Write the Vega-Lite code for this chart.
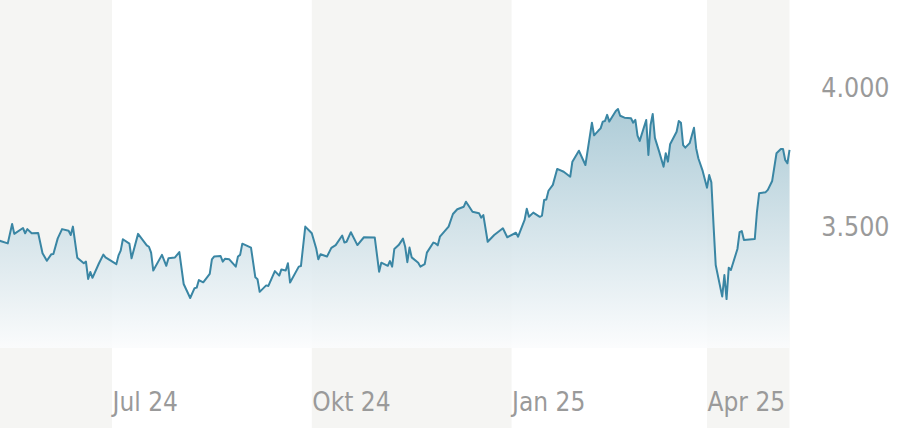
{
  "$schema": "https://vega.github.io/schema/vega-lite/v6.json",
  "width": 902,
  "height": 428,
  "autosize": {"type": "none"},
  "padding": 0,
  "background": "#ffffff",
  "config": {
    "view": {"stroke": null},
    "axis": {"labelOverlap": false, "labelFlush": false},
    "locale": {
      "number": {"decimal": ",", "thousands": ".", "grouping": [3], "currency": ["", " €"]},
      "time": {
        "dateTime": "%A, der %e. %B %Y, %X",
        "date": "%d.%m.%Y",
        "time": "%H:%M:%S",
        "periods": ["AM", "PM"],
        "days": ["Sonntag", "Montag", "Dienstag", "Mittwoch", "Donnerstag", "Freitag", "Samstag"],
        "shortDays": ["So", "Mo", "Di", "Mi", "Do", "Fr", "Sa"],
        "months": ["Januar", "Februar", "März", "April", "Mai", "Juni", "Juli", "August", "September", "Oktober", "November", "Dezember"],
        "shortMonths": ["Jan", "Feb", "Mär", "Apr", "Mai", "Jun", "Jul", "Aug", "Sep", "Okt", "Nov", "Dez"]
      }
    }
  },
  "datasets": {
    "bands": [
      {"s": "2024-04-01", "e": "2024-07-01"},
      {"s": "2024-10-01", "e": "2025-01-01"},
      {"s": "2025-04-01", "e": "2025-05-09"}
    ],
    "prices": [
      {"date": "2024-05-10", "v": 3455}, {"date": "2024-05-14", "v": 3445}, {"date": "2024-05-16", "v": 3514},
      {"date": "2024-05-17", "v": 3479}, {"date": "2024-05-21", "v": 3500}, {"date": "2024-05-22", "v": 3481},
      {"date": "2024-05-23", "v": 3496}, {"date": "2024-05-25", "v": 3481}, {"date": "2024-05-28", "v": 3482},
      {"date": "2024-05-30", "v": 3410}, {"date": "2024-06-01", "v": 3383}, {"date": "2024-06-03", "v": 3406},
      {"date": "2024-06-04", "v": 3407}, {"date": "2024-06-06", "v": 3463}, {"date": "2024-06-08", "v": 3496},
      {"date": "2024-06-11", "v": 3490}, {"date": "2024-06-12", "v": 3475}, {"date": "2024-06-13", "v": 3505},
      {"date": "2024-06-15", "v": 3394}, {"date": "2024-06-18", "v": 3374}, {"date": "2024-06-19", "v": 3380},
      {"date": "2024-06-20", "v": 3318}, {"date": "2024-06-21", "v": 3343}, {"date": "2024-06-22", "v": 3322},
      {"date": "2024-06-25", "v": 3374}, {"date": "2024-06-27", "v": 3405}, {"date": "2024-06-28", "v": 3395},
      {"date": "2024-07-03", "v": 3371}, {"date": "2024-07-04", "v": 3402}, {"date": "2024-07-05", "v": 3419},
      {"date": "2024-07-06", "v": 3460}, {"date": "2024-07-09", "v": 3444}, {"date": "2024-07-10", "v": 3392},
      {"date": "2024-07-13", "v": 3479}, {"date": "2024-07-17", "v": 3438}, {"date": "2024-07-18", "v": 3433},
      {"date": "2024-07-19", "v": 3412}, {"date": "2024-07-20", "v": 3348}, {"date": "2024-07-24", "v": 3404},
      {"date": "2024-07-26", "v": 3365}, {"date": "2024-07-27", "v": 3392}, {"date": "2024-07-30", "v": 3395},
      {"date": "2024-08-01", "v": 3414}, {"date": "2024-08-03", "v": 3300}, {"date": "2024-08-06", "v": 3250},
      {"date": "2024-08-08", "v": 3285}, {"date": "2024-08-09", "v": 3287}, {"date": "2024-08-10", "v": 3314},
      {"date": "2024-08-12", "v": 3306}, {"date": "2024-08-15", "v": 3336}, {"date": "2024-08-16", "v": 3388},
      {"date": "2024-08-17", "v": 3398}, {"date": "2024-08-20", "v": 3400}, {"date": "2024-08-21", "v": 3380},
      {"date": "2024-08-22", "v": 3390}, {"date": "2024-08-24", "v": 3388}, {"date": "2024-08-27", "v": 3362},
      {"date": "2024-08-28", "v": 3398}, {"date": "2024-08-29", "v": 3404}, {"date": "2024-08-30", "v": 3444},
      {"date": "2024-09-03", "v": 3430}, {"date": "2024-09-05", "v": 3324}, {"date": "2024-09-06", "v": 3317},
      {"date": "2024-09-07", "v": 3272}, {"date": "2024-09-10", "v": 3295}, {"date": "2024-09-11", "v": 3293},
      {"date": "2024-09-14", "v": 3346}, {"date": "2024-09-16", "v": 3330}, {"date": "2024-09-17", "v": 3352},
      {"date": "2024-09-19", "v": 3348}, {"date": "2024-09-20", "v": 3374}, {"date": "2024-09-21", "v": 3305},
      {"date": "2024-09-25", "v": 3362}, {"date": "2024-09-26", "v": 3364}, {"date": "2024-09-28", "v": 3505},
      {"date": "2024-10-01", "v": 3481}, {"date": "2024-10-03", "v": 3428}, {"date": "2024-10-04", "v": 3388},
      {"date": "2024-10-05", "v": 3406}, {"date": "2024-10-08", "v": 3398}, {"date": "2024-10-10", "v": 3429},
      {"date": "2024-10-12", "v": 3439}, {"date": "2024-10-15", "v": 3473}, {"date": "2024-10-16", "v": 3448},
      {"date": "2024-10-17", "v": 3451}, {"date": "2024-10-19", "v": 3485}, {"date": "2024-10-22", "v": 3439},
      {"date": "2024-10-25", "v": 3467}, {"date": "2024-10-30", "v": 3466}, {"date": "2024-11-01", "v": 3344},
      {"date": "2024-11-02", "v": 3376}, {"date": "2024-11-05", "v": 3365}, {"date": "2024-11-06", "v": 3382},
      {"date": "2024-11-07", "v": 3362}, {"date": "2024-11-08", "v": 3425}, {"date": "2024-11-10", "v": 3439},
      {"date": "2024-11-12", "v": 3462}, {"date": "2024-11-13", "v": 3433}, {"date": "2024-11-14", "v": 3378},
      {"date": "2024-11-15", "v": 3430}, {"date": "2024-11-16", "v": 3395}, {"date": "2024-11-19", "v": 3376},
      {"date": "2024-11-20", "v": 3362}, {"date": "2024-11-22", "v": 3371}, {"date": "2024-11-23", "v": 3412},
      {"date": "2024-11-26", "v": 3448}, {"date": "2024-11-27", "v": 3445}, {"date": "2024-11-28", "v": 3438},
      {"date": "2024-11-29", "v": 3469}, {"date": "2024-12-03", "v": 3505}, {"date": "2024-12-05", "v": 3550},
      {"date": "2024-12-07", "v": 3567}, {"date": "2024-12-10", "v": 3576}, {"date": "2024-12-11", "v": 3594},
      {"date": "2024-12-12", "v": 3582}, {"date": "2024-12-14", "v": 3558}, {"date": "2024-12-17", "v": 3553},
      {"date": "2024-12-18", "v": 3537}, {"date": "2024-12-19", "v": 3546}, {"date": "2024-12-21", "v": 3451},
      {"date": "2024-12-24", "v": 3475}, {"date": "2024-12-28", "v": 3499}, {"date": "2024-12-30", "v": 3467},
      {"date": "2025-01-03", "v": 3483}, {"date": "2025-01-04", "v": 3469}, {"date": "2025-01-07", "v": 3529},
      {"date": "2025-01-08", "v": 3569}, {"date": "2025-01-09", "v": 3540}, {"date": "2025-01-11", "v": 3555},
      {"date": "2025-01-14", "v": 3540}, {"date": "2025-01-15", "v": 3544}, {"date": "2025-01-16", "v": 3600},
      {"date": "2025-01-17", "v": 3602}, {"date": "2025-01-18", "v": 3633}, {"date": "2025-01-20", "v": 3654},
      {"date": "2025-01-22", "v": 3711}, {"date": "2025-01-25", "v": 3701}, {"date": "2025-01-28", "v": 3683},
      {"date": "2025-01-29", "v": 3737}, {"date": "2025-02-01", "v": 3776}, {"date": "2025-02-04", "v": 3725},
      {"date": "2025-02-07", "v": 3876}, {"date": "2025-02-08", "v": 3831}, {"date": "2025-02-10", "v": 3848},
      {"date": "2025-02-11", "v": 3856}, {"date": "2025-02-12", "v": 3880}, {"date": "2025-02-13", "v": 3882},
      {"date": "2025-02-14", "v": 3904}, {"date": "2025-02-15", "v": 3880}, {"date": "2025-02-18", "v": 3918},
      {"date": "2025-02-19", "v": 3925}, {"date": "2025-02-20", "v": 3901}, {"date": "2025-02-22", "v": 3894},
      {"date": "2025-02-25", "v": 3892}, {"date": "2025-02-26", "v": 3876}, {"date": "2025-02-27", "v": 3886},
      {"date": "2025-02-28", "v": 3830}, {"date": "2025-03-01", "v": 3811}, {"date": "2025-03-04", "v": 3886},
      {"date": "2025-03-05", "v": 3761}, {"date": "2025-03-06", "v": 3868}, {"date": "2025-03-07", "v": 3907},
      {"date": "2025-03-08", "v": 3822}, {"date": "2025-03-10", "v": 3772}, {"date": "2025-03-12", "v": 3719},
      {"date": "2025-03-13", "v": 3767}, {"date": "2025-03-14", "v": 3737}, {"date": "2025-03-15", "v": 3799},
      {"date": "2025-03-18", "v": 3844}, {"date": "2025-03-19", "v": 3882}, {"date": "2025-03-20", "v": 3876},
      {"date": "2025-03-21", "v": 3796}, {"date": "2025-03-22", "v": 3787}, {"date": "2025-03-24", "v": 3803},
      {"date": "2025-03-26", "v": 3858}, {"date": "2025-03-27", "v": 3785}, {"date": "2025-03-28", "v": 3749},
      {"date": "2025-03-30", "v": 3704}, {"date": "2025-04-01", "v": 3644}, {"date": "2025-04-02", "v": 3689},
      {"date": "2025-04-03", "v": 3663}, {"date": "2025-04-04", "v": 3511}, {"date": "2025-04-05", "v": 3368},
      {"date": "2025-04-08", "v": 3255}, {"date": "2025-04-09", "v": 3332}, {"date": "2025-04-10", "v": 3246},
      {"date": "2025-04-11", "v": 3358}, {"date": "2025-04-12", "v": 3350}, {"date": "2025-04-15", "v": 3425},
      {"date": "2025-04-16", "v": 3485}, {"date": "2025-04-17", "v": 3489}, {"date": "2025-04-18", "v": 3457},
      {"date": "2025-04-23", "v": 3461}, {"date": "2025-04-24", "v": 3558}, {"date": "2025-04-25", "v": 3624},
      {"date": "2025-04-28", "v": 3628}, {"date": "2025-04-29", "v": 3636}, {"date": "2025-05-01", "v": 3668},
      {"date": "2025-05-03", "v": 3767}, {"date": "2025-05-05", "v": 3782}, {"date": "2025-05-06", "v": 3782},
      {"date": "2025-05-07", "v": 3743}, {"date": "2025-05-08", "v": 3731}, {"date": "2025-05-09", "v": 3779}
    ]
  },
  "layer": [
    {
      "data": {"name": "bands"},
      "mark": {"type": "rect", "color": "#f5f5f3", "clip": true},
      "encoding": {
        "x": {"field": "s", "type": "temporal",
              "scale": {"domain": [{"year": 2024, "month": 5, "date": 10, "hours": 10}, {"year": 2025, "month": 6, "date": 29, "hours": 19}]}},
        "x2": {"field": "e"}
      }
    },
    {
      "data": {"name": "prices"},
      "mark": {
        "type": "area",
        "opacity": 0.88,
        "color": {
          "gradient": "linear", "x1": 0, "y1": 0, "x2": 0, "y2": 1,
          "stops": [
            {"offset": 0, "color": "#a3c5d2"},
            {"offset": 1, "color": "#fbfcfd"}
          ]
        }
      },
      "encoding": {
        "x": {"field": "date", "type": "temporal",
              "scale": {"domain": [{"year": 2024, "month": 5, "date": 10, "hours": 10}, {"year": 2025, "month": 6, "date": 29, "hours": 19}]}},
        "y": {"field": "v", "type": "quantitative",
              "scale": {"domain": [2785.7, 4314.3], "zero": false, "nice": false}},
        "y2": {"datum": 3071}
      }
    },
    {
      "data": {"name": "prices"},
      "mark": {"type": "line", "color": "#3a86a4", "strokeWidth": 2, "strokeJoin": "round"},
      "encoding": {
        "x": {"field": "date", "type": "temporal",
              "scale": {"domain": [{"year": 2024, "month": 5, "date": 10, "hours": 10}, {"year": 2025, "month": 6, "date": 29, "hours": 19}]},
              "axis": {
                "title": null, "orient": "bottom", "domain": false, "ticks": false, "grid": false, "zindex": 2,
                "values": [{"year": 2024, "month": 7, "date": 1}, {"year": 2024, "month": 10, "date": 1}, {"year": 2025, "month": 1, "date": 1}, {"year": 2025, "month": 4, "date": 1}],
                "format": "%b %y",
                "labelAlign": "left", "labelBaseline": "alphabetic", "labelPadding": -18,
                "labelFont": "DejaVu Sans Condensed, DejaVu Sans", "labelFontSize": 26, "labelColor": "#9a9a9a",
                "labelFlush": false, "labelOverlap": false
              }},
        "y": {"field": "v", "type": "quantitative",
              "scale": {"domain": [2785.7, 4314.3], "zero": false, "nice": false},
              "axis": {
                "title": null, "orient": "right", "domain": false, "ticks": false, "grid": false, "zindex": 2,
                "values": [3500, 4000],
                "format": ",.0f",
                "labelAlign": "right", "labelBaseline": "middle", "labelPadding": -13,
                "labelFont": "DejaVu Sans Condensed, DejaVu Sans", "labelFontSize": 26.5, "labelColor": "#9a9a9a",
                "labelFlush": false, "labelOverlap": false
              }}
      }
    }
  ]
}
